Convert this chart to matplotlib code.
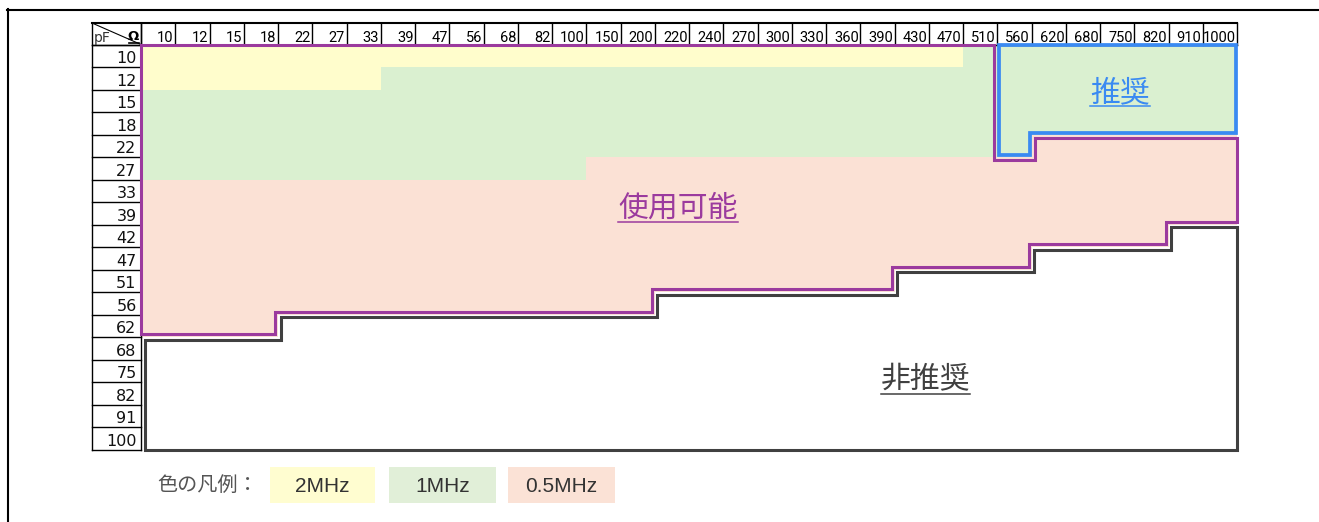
import matplotlib
matplotlib.use("Agg")
import matplotlib.pyplot as plt
import numpy as np
from matplotlib.colors import ListedColormap
from matplotlib.lines import Line2D
from matplotlib.patches import Rectangle, Polygon
from matplotlib import font_manager

# ---------------- data ----------------
res_ohm = [10, 12, 15, 18, 22, 27, 33, 39, 47, 56, 68, 82, 100, 150, 200, 220,
           240, 270, 300, 330, 360, 390, 430, 470, 510, 560, 620, 680, 750, 820, 910, 1000]
cap_pf = [10, 12, 15, 18, 22, 27, 33, 39, 42, 47, 51, 56, 62, 68, 75, 82, 91, 100]

# max usable capacitance (pF) per resistor column, 0 = none
max_pf_2mhz = [12, 12, 12, 12, 12, 12, 12, 10, 10, 10, 10, 10, 10, 10, 10, 10,
               10, 10, 10, 10, 10, 10, 10, 10, 0, 0, 0, 0, 0, 0, 0, 0]
max_pf_1mhz = [27, 27, 27, 27, 27, 27, 27, 27, 27, 27, 27, 27, 27, 22, 22, 22,
               22, 22, 22, 22, 22, 22, 22, 22, 22, 22, 18, 18, 18, 18, 18, 18]
max_pf_05mhz = [62, 62, 62, 62, 56, 56, 56, 56, 56, 56, 56, 56, 56, 56, 56, 51,
                51, 51, 51, 51, 51, 51, 47, 47, 47, 47, 42, 42, 42, 42, 39, 39]
max_pf_recommended = [0, 0, 0, 0, 0, 0, 0, 0, 0, 0, 0, 0, 0, 0, 0, 0,
                      0, 0, 0, 0, 0, 0, 0, 0, 0, 22, 18, 18, 18, 18, 18, 18]

legend_title = "色の凡例："
legend_labels = ["2MHz", "1MHz", "0.5MHz"]
region_labels = ["推奨", "使用可能", "非推奨"]

# ---------------- style ----------------
C_WHITE = "#FFFFFF"
C_YEL = "#FFFDCC"
C_GRN = "#DAF0D0"
C_PNK = "#FBE1D5"
LEG_COLORS = ["#FFFDD0", "#E1EFD8", "#FBE2D6"]
C_PURPLE = "#9B3A9E"
C_BLUE = "#3A8AF2"
C_BLACK = "#404040"

names = {f.name for f in font_manager.fontManager.ttflist}
if "Liberation Sans Narrow" in names:
    HDR_FONT = dict(family="Liberation Sans Narrow", fontsize=11.5)
else:
    HDR_FONT = dict(family=["Roboto", "DejaVu Sans"], fontsize=10.5)
CJK = ["Noto Sans CJK JP", "DejaVu Sans"]
LAT = ["Liberation Sans", "DejaVu Sans"]

W, H = 1319, 522
fig = plt.figure(figsize=(W / 100, H / 100), dpi=100)
fig.patch.set_facecolor("white")

def P(x, y):
    """pixel (top-left origin) -> figure fraction"""
    return x / W, 1 - y / H

# outer frame (top + left)
fig.add_artist(Line2D([P(7, 0)[0], P(W, 0)[0]], [P(0, 9.5)[1]] * 2, color="black", lw=1.5))
fig.add_artist(Line2D([P(7.8, 0)[0]] * 2, [P(0, 8.5)[1], P(0, H)[1]], color="black", lw=1.5))

# grid axes
GX0, GX1, GY0, GY1 = 141, 1237, 44.5, 449.5
ncol, nrow = len(res_ohm), len(cap_pf)
ax = fig.add_axes([GX0 / W, 1 - GY1 / H, (GX1 - GX0) / W, (GY1 - GY0) / H])
ax.set_xlim(0, ncol)
ax.set_ylim(nrow, 0)
ax.axis("off")
px_col = (GX1 - GX0) / ncol
px_row = (GY1 - GY0) / nrow

def nrows_for(v):
    return cap_pf.index(v) + 1 if v else 0

n2 = [nrows_for(v) for v in max_pf_2mhz]
n1 = [nrows_for(v) for v in max_pf_1mhz]
n05 = [nrows_for(v) for v in max_pf_05mhz]
nrec = [nrows_for(v) for v in max_pf_recommended]

codes = np.zeros((nrow, ncol))
for j in range(ncol):
    for i in range(nrow):
        if i < n2[j]:
            codes[i, j] = 1
        elif i < n1[j]:
            codes[i, j] = 2
        elif i < n05[j]:
            codes[i, j] = 3
ax.pcolormesh(np.arange(ncol + 1), np.arange(nrow + 1), codes,
              cmap=ListedColormap([C_WHITE, C_YEL, C_GRN, C_PNK]), vmin=-0.5, vmax=3.5,
              shading="flat", zorder=1)

# ---------- header row & label column ----------
HDR = (GY0 - 23) / px_row
LBL = (GX0 - 92) / px_col
lk = dict(color="black", clip_on=False, zorder=2, solid_capstyle="projecting")
ax.plot([-LBL, ncol], [-HDR, -HDR], lw=1.5, **lk)
ax.plot([-LBL, ncol], [0, 0], lw=1.0, **lk)
for j in range(ncol + 1):
    ax.plot([j, j], [-HDR, 0], lw=1.0, **lk)
ax.plot([-LBL, -LBL], [-HDR, nrow], lw=1.0, **lk)
ax.plot([0, 0], [-HDR, nrow], lw=1.0, **lk)
for i in range(nrow + 1):
    ax.plot([-LBL, 0], [i, i], lw=1.0, **lk)
ax.plot([-LBL, 0], [-HDR, 0], lw=0.8, color="black", clip_on=False, zorder=2)
ax.text(-LBL + 1.5 / px_col, -0.1, "pF", ha="left", va="baseline", fontsize=10,
        family="DejaVu Sans", color="#333", clip_on=False)
ax.text(-2.5 / px_col, -0.22, "Ω", ha="right", va="baseline", fontsize=9.5,
        family="DejaVu Sans", fontweight="bold", color="black", clip_on=False)
ax.plot([-12 / px_col, -2.5 / px_col], [-0.07, -0.07], lw=1.2, color="black", clip_on=False)

for j, r in enumerate(res_ohm):
    ax.text(j + 1 - 1.5 / px_col, -0.12, str(r), ha="right", va="baseline",
            color="black", clip_on=False, **HDR_FONT)
for i, c in enumerate(cap_pf):
    ax.text(-4.5 / px_col, i + 1 - 0.16, str(c), ha="right", va="baseline",
            fontsize=11.5, family="DejaVu Sans", color="#111", clip_on=False)

# ---------- outlines ----------
def band_polygon(top, bottom):
    v = []
    for j, t in enumerate(top):
        v += [(j, t), (j + 1, t)]
    for j in reversed(range(len(bottom))):
        v += [(j + 1, bottom[j]), (j, bottom[j])]
    out = []
    for p in v:
        if not out or out[-1] != p:
            out.append(p)
    if out[0] == out[-1]:
        out.pop()
    changed = True
    while changed:
        changed = False
        for k in range(len(out)):
            a, b, c = out[k - 1], out[k], out[(k + 1) % len(out)]
            if (a[0] == b[0] == c[0]) or (a[1] == b[1] == c[1]):
                out.pop(k)
                changed = True
                break
    return out

def inset(verts, d_fn):
    n = len(verts)
    area = sum(verts[k][0] * verts[(k + 1) % n][1] - verts[(k + 1) % n][0] * verts[k][1] for k in range(n))
    sgn = 1 if area > 0 else -1
    edges = []
    for k in range(n):
        a, b = verts[k], verts[(k + 1) % n]
        dx, dy = b[0] - a[0], b[1] - a[1]
        nx, ny = -np.sign(dy) * sgn, np.sign(dx) * sgn
        d = d_fn(a, b)
        if dy == 0:
            edges.append(("h", a[1] + ny * d / px_row))
        else:
            edges.append(("v", a[0] + nx * d / px_col))
    res = []
    for k in range(n):
        e1, e2 = edges[k - 1], edges[k]
        x = e1[1] if e1[0] == "v" else e2[1]
        y = e1[1] if e1[0] == "h" else e2[1]
        res.append((x, y))
    return res

def is_outer(a, b):
    return (a[0] == b[0] and a[0] in (0, ncol)) or (a[1] == b[1] and a[1] in (0, nrow))

# non-recommended (white) region, black
blk = band_polygon(n05, [nrow] * ncol)
blk_in = inset(blk, lambda a, b: (4 if a[0] == b[0] == 0 else 0) if is_outer(a, b) else 2.5)
ax.add_patch(Polygon(blk_in, closed=True, fill=False, ec=C_BLACK, lw=2.2,
                     joinstyle="miter", zorder=3, clip_on=False))
# usable region, purple
pur = band_polygon(nrec, n05)
pur_in = inset(pur, lambda a, b: 0 if is_outer(a, b) else 3)
ax.add_patch(Polygon(pur_in, closed=True, fill=False, ec=C_PURPLE, lw=2.2,
                     joinstyle="miter", zorder=4, clip_on=False))
# recommended region, blue
cols_rec = [j for j in range(ncol) if nrec[j] > 0]
j0 = cols_rec[0]
rec = band_polygon([0] * len(cols_rec), [nrec[j] for j in cols_rec])
rec = [(x + j0, y) for x, y in rec]
rec_in = inset(rec, lambda a, b: 0.8 if is_outer(a, b) else 1.8)
ax.add_patch(Polygon(rec_in, closed=True, fill=False, ec=C_BLUE, lw=2.7,
                     joinstyle="miter", zorder=5, clip_on=False))

# ---------- region labels ----------
dy_lab = 3 / px_row
lab_specs = [
    (region_labels[0], j0 + (ncol - j0) / 2 + 3 / px_col, min(nrec[j] for j in cols_rec) / 2 + dy_lab, C_BLUE),
    (region_labels[1], 15.68, 7.13 + dy_lab, C_PURPLE),
    (region_labels[2], 22.9, 14.78 + dy_lab, C_BLACK),
]
texts = []
for s, x, y, col in lab_specs:
    t = ax.text(x, y, s, ha="center", va="center", fontsize=21.5, family=CJK,
                color=col, zorder=6)
    texts.append((t, col))

# ---------- legend ----------
fig.text(*P(157, 485), legend_title, ha="left", va="center", fontsize=14.5,
         family=CJK, color="#555555")
box_x = [(270, 375), (389, 496), (508, 615)]
for (x0, x1), lab, colr in zip(box_x, legend_labels, LEG_COLORS):
    fx0, fy0 = P(x0, 503)
    fx1, fy1 = P(x1, 467)
    fig.add_artist(Rectangle((fx0, fy0), fx1 - fx0, fy1 - fy0, transform=fig.transFigure,
                             facecolor=colr, edgecolor="none"))
    fig.text((fx0 + fx1) / 2, P(0, 486)[1], lab, ha="center", va="center",
             fontsize=15, family=LAT, color="#333333")

# underline region labels
fig.canvas.draw()
r = fig.canvas.get_renderer()
for t, col in texts:
    bb = t.get_window_extent(renderer=r)
    yb = bb.y0 + 0.06 * (bb.y1 - bb.y0)
    fig.add_artist(Line2D([bb.x0 / W, bb.x1 / W], [yb / H, yb / H], color=col, lw=1.1))

fig.savefig("out.png", dpi=100, facecolor="white")
